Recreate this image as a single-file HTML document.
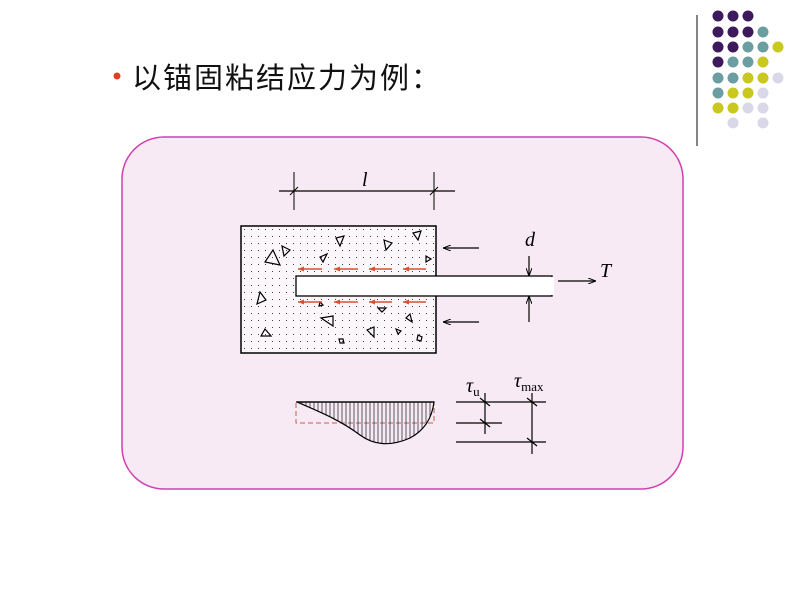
<!DOCTYPE html>
<html><head><meta charset="utf-8"><style>
html,body{margin:0;padding:0;background:#fff;}
svg{display:block;}
</style></head><body>
<svg width="800" height="600" viewBox="0 0 800 600" xmlns="http://www.w3.org/2000/svg">
<defs>
<pattern id="dots" x="241" y="226" width="7" height="7" patternUnits="userSpaceOnUse">
<rect x="3" y="3" width="1" height="1" fill="#444"/>
</pattern>
<pattern id="vh" x="0" y="0" width="4" height="10" patternUnits="userSpaceOnUse">
<line x1="2" y1="0" x2="2" y2="10" stroke="#333" stroke-width="0.8"/>
</pattern>
<marker id="ah" markerWidth="8" markerHeight="6" refX="8" refY="3" orient="auto" markerUnits="userSpaceOnUse">
<path d="M0,0 L8,3 L0,6" fill="none" stroke="#000" stroke-width="1"/>
</marker>
<marker id="rh" markerWidth="6" markerHeight="5" refX="6" refY="2.5" orient="auto" markerUnits="userSpaceOnUse">
<path d="M0,0 L6,2.5 L0,5 z" fill="#d85030"/>
</marker>
</defs>
<circle cx="117" cy="76" r="3.5" fill="#e04020"/>
<text x="132" y="88" font-family="Liberation Sans, Noto Sans CJK SC, sans-serif" font-size="29" letter-spacing="2" fill="#111">以锚固粘结应力为例：</text>
<line x1="697" y1="15" x2="697" y2="146" stroke="#333" stroke-width="1.2"/>
<g>
<circle cx="718" cy="16" r="5.5" fill="#3d1a5c"/><circle cx="733" cy="16" r="5.5" fill="#3d1a5c"/><circle cx="748" cy="16" r="5.5" fill="#3d1a5c"/>
<circle cx="718" cy="32" r="5.5" fill="#3d1a5c"/><circle cx="733" cy="32" r="5.5" fill="#3d1a5c"/><circle cx="748" cy="32" r="5.5" fill="#3d1a5c"/><circle cx="763" cy="32" r="5.5" fill="#6a9ea0"/>
<circle cx="718" cy="47" r="5.5" fill="#3d1a5c"/><circle cx="733" cy="47" r="5.5" fill="#3d1a5c"/><circle cx="748" cy="47" r="5.5" fill="#6a9ea0"/><circle cx="763" cy="47" r="5.5" fill="#6a9ea0"/><circle cx="778" cy="47" r="5.5" fill="#c8c81e"/>
<circle cx="718" cy="62" r="5.5" fill="#3d1a5c"/><circle cx="733" cy="62" r="5.5" fill="#6a9ea0"/><circle cx="748" cy="62" r="5.5" fill="#6a9ea0"/><circle cx="763" cy="62" r="5.5" fill="#c8c81e"/>
<circle cx="718" cy="78" r="5.5" fill="#6a9ea0"/><circle cx="733" cy="78" r="5.5" fill="#6a9ea0"/><circle cx="748" cy="78" r="5.5" fill="#c8c81e"/><circle cx="763" cy="78" r="5.5" fill="#c8c81e"/><circle cx="778" cy="78" r="5.5" fill="#d8d8e8"/>
<circle cx="718" cy="93" r="5.5" fill="#6a9ea0"/><circle cx="733" cy="93" r="5.5" fill="#c8c81e"/><circle cx="748" cy="93" r="5.5" fill="#c8c81e"/><circle cx="763" cy="93" r="5.5" fill="#d8d8e8"/>
<circle cx="718" cy="108" r="5.5" fill="#c8c81e"/><circle cx="733" cy="108" r="5.5" fill="#c8c81e"/><circle cx="748" cy="108" r="5.5" fill="#d8d8e8"/><circle cx="763" cy="108" r="5.5" fill="#d8d8e8"/>
<circle cx="733" cy="123" r="5.5" fill="#d8d8e8"/><circle cx="763" cy="123" r="5.5" fill="#d8d8e8"/>
</g>
<rect x="122" y="137" width="561" height="352" rx="42" fill="#f7eaf5" stroke="#d040b0" stroke-width="1.5"/>
<line x1="279" y1="191" x2="455" y2="191" stroke="#000" stroke-width="1.2"/>
<line x1="294" y1="172" x2="294" y2="210" stroke="#000"/>
<line x1="434" y1="172" x2="434" y2="210" stroke="#000"/>
<line x1="290" y1="195" x2="298" y2="187" stroke="#000"/>
<line x1="430" y1="195" x2="438" y2="187" stroke="#000"/>
<text x="362" y="186" font-family="Liberation Serif, serif" font-style="italic" font-size="20">l</text>
<rect x="241" y="226" width="195" height="127" fill="#fbf7fa" stroke="#000" stroke-width="1.5"/>
<rect x="242" y="227" width="193" height="125" fill="url(#dots)"/>
<g fill="none" stroke="#000" stroke-width="1.2">
<path d="M282,246 L290,250 L284,256 z"/><path d="M336,238 L344,236 L340,246 z"/><path d="M384,240 L392,243 L386,250 z"/><path d="M413,233 L421,231 L418,240 z"/>
<path d="M273,250 L280,265 L265,262 z"/><path d="M320,257 L327,254 L323,262 z"/><path d="M426,256 L431,259 L426,262 z"/>
<path d="M260,292 L266,300 L257,304 z"/><path d="M321,318 L333,316 L333,326 z"/><path d="M378,308 L386,308 L382,312 z"/><path d="M410,314 L412,322 L406,318 z"/>
<path d="M265,329 L271,336 L261,336 z"/><path d="M367,330 L374,327 L374,337 z"/><path d="M396,329 L401,331 L398,334 z"/>
<path d="M339,339 L343,339 L344,343 L340,343 z"/><path d="M418,335 L422,337 L421,341 L417,340 z"/>
<path d="M320,302 L323,305 L319,306 z"/>
</g>
<g stroke="#d85030" stroke-width="1.5">
<line x1="322" y1="269" x2="298" y2="269" marker-end="url(#rh)"/>
<line x1="358" y1="269" x2="334" y2="269" marker-end="url(#rh)"/>
<line x1="392" y1="269" x2="369" y2="269" marker-end="url(#rh)"/>
<line x1="426" y1="269" x2="403" y2="269" marker-end="url(#rh)"/>
<line x1="322" y1="302" x2="298" y2="302" marker-end="url(#rh)"/>
<line x1="358" y1="302" x2="334" y2="302" marker-end="url(#rh)"/>
<line x1="392" y1="302" x2="369" y2="302" marker-end="url(#rh)"/>
<line x1="426" y1="302" x2="403" y2="302" marker-end="url(#rh)"/>
</g>
<rect x="296" y="276" width="256" height="20" fill="#fff" stroke="#000" stroke-width="1.3"/>
<rect x="551" y="277" width="3" height="18" fill="#fff"/>
<line x1="479" y1="248" x2="443" y2="248" stroke="#000" stroke-width="1.2" marker-end="url(#ah)"/>
<line x1="479" y1="322" x2="443" y2="322" stroke="#000" stroke-width="1.2" marker-end="url(#ah)"/>
<line x1="529" y1="256" x2="529" y2="276" stroke="#000" stroke-width="1.2" marker-end="url(#ah)"/>
<line x1="529" y1="322" x2="529" y2="296" stroke="#000" stroke-width="1.2" marker-end="url(#ah)"/>
<text x="525" y="246" font-family="Liberation Serif, serif" font-style="italic" font-size="20">d</text>
<line x1="558" y1="281" x2="596" y2="281" stroke="#000" stroke-width="1.2" marker-end="url(#ah)"/>
<text x="600" y="277" font-family="Liberation Serif, serif" font-style="italic" font-size="20">T</text>
<rect x="296" y="402" width="138" height="21" fill="none" stroke="#c06050" stroke-width="1" stroke-dasharray="5,3"/>
<path d="M297,402 C320,412 340,420 360,435 C375,446 392,446 410,438 C425,430 432,418 434,402 z" fill="url(#vh)" stroke="#000" stroke-width="1.2"/>
<line x1="296" y1="402" x2="434" y2="402" stroke="#000" stroke-width="1.2"/>
<g stroke="#000" stroke-width="1.2">
<line x1="456" y1="402" x2="546" y2="402"/>
<line x1="456" y1="423" x2="502" y2="423"/>
<line x1="456" y1="442" x2="546" y2="442"/>
<line x1="485" y1="393" x2="485" y2="434"/>
<line x1="532" y1="393" x2="532" y2="454"/>
<line x1="480" y1="398" x2="490" y2="406"/>
<line x1="480" y1="419" x2="490" y2="427"/>
<line x1="527" y1="398" x2="537" y2="406"/>
<line x1="527" y1="438" x2="537" y2="446"/>
</g>
<text x="466" y="392" font-family="Liberation Serif, serif" font-style="italic" font-size="20">τ<tspan font-style="normal" font-size="13" dy="4">u</tspan></text>
<text x="514" y="387" font-family="Liberation Serif, serif" font-style="italic" font-size="20">τ<tspan font-style="normal" font-size="13" dy="4">max</tspan></text>
</svg>
</body></html>
